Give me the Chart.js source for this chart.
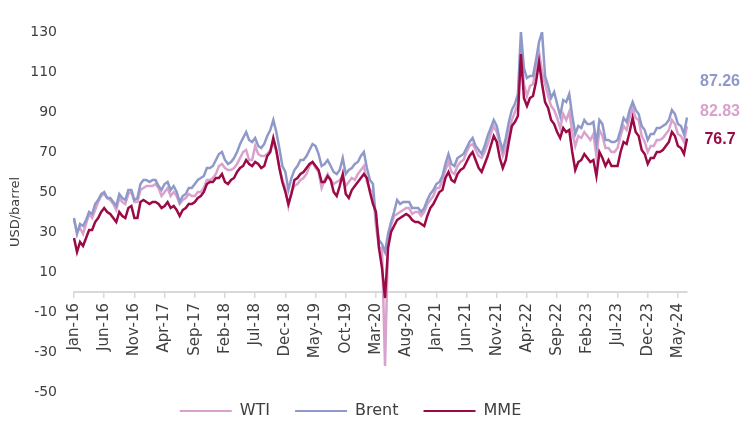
<!DOCTYPE html>
<html><head><meta charset="utf-8">
<script src="https://cdn.jsdelivr.net/npm/chart.js@4.4.1/dist/chart.umd.min.js"></script>
<style>html,body{margin:0;padding:0;background:#fff;overflow:hidden}</style>
</head><body>
<canvas id="c" width="741" height="421"></canvas>
<script>
// Half-monthly values, Jan-2016 (1st half) .. Jun-2024 (2nd half), USD/barrel
const wti = [
  36, 30, 32, 29, 34, 39, 37, 41, 45, 48, 49, 47, 46, 44, 41, 47, 45, 44, 49, 50, 45, 45, 51, 52,
  53, 53, 53, 54, 52, 48, 50, 52, 48, 50, 48, 44, 46, 47, 49, 48, 48, 50, 50, 52, 56, 56, 57, 59,
  63, 64, 62, 61, 61, 62, 64, 67, 70, 71, 66, 66, 73, 69, 68, 68, 69, 71, 75, 70, 63, 56, 52, 43,
  50, 53, 54, 56, 57, 59, 63, 65, 62, 60, 52, 56, 59, 56, 54, 55, 56, 58, 53, 55, 57, 56, 59, 61,
  63, 55, 51, 50, 33, 22, 22, -37, 24, 33, 38, 39, 40, 41, 42, 42, 39, 40, 40, 38, 40, 44, 46, 48,
  52, 52, 56, 61, 65, 60, 59, 63, 65, 66, 70, 73, 74, 71, 68, 67, 70, 74, 79, 83, 80, 74, 68, 72,
  80, 86, 90, 94, 123, 104, 98, 103, 104, 112, 120, 110, 104, 98, 93, 91, 87, 82, 89, 86, 90, 80, 73, 78,
  77, 80, 78, 76, 79, 68, 81, 78, 72, 72, 70, 70, 72, 78, 83, 81, 87, 92, 87, 86, 78, 75, 70, 73,
  73, 76, 76, 77, 79, 81, 86, 84, 79, 78, 75, 82.83
];
const brent = [
  37, 29, 34, 33, 36, 40, 39, 44, 46, 49, 50, 47, 47, 45, 43, 49, 47, 46, 51, 51, 46, 47, 54, 56,
  56, 55, 56, 56, 53, 51, 54, 55, 51, 53, 50, 45, 48, 49, 52, 52, 54, 56, 57, 58, 62, 62, 63, 66,
  69, 70, 66, 64, 65, 67, 70, 74, 77, 80, 76, 75, 77, 73, 72, 74, 78, 81, 86, 80, 72, 63, 60, 51,
  57, 61, 63, 66, 66, 68, 71, 74, 73, 69, 63, 64, 66, 63, 60, 59, 61, 67, 59, 61, 62, 64, 65, 68,
  70, 62, 56, 54, 36, 26, 24, 20, 29, 35, 40, 46, 44, 45, 45, 45, 42, 42, 42, 40, 42, 46, 49, 51,
  54, 55, 58, 64, 69, 64, 63, 67, 68, 69, 72, 75, 77, 73, 71, 69, 73, 78, 82, 86, 83, 76, 71, 77,
  85, 91, 94, 99, 130, 112, 107, 108, 108, 116, 125, 130, 108, 103, 97, 100, 94, 88, 96, 95, 99, 88, 79, 83,
  82, 86, 84, 84, 85, 74, 86, 84, 76, 76, 75, 75, 76, 81, 87, 85, 91, 95, 91, 89, 83, 81, 76, 79,
  79, 82, 82, 83, 84, 86, 91, 89, 84, 83, 79, 87.26
];
const mme = [
  27, 20, 25, 23, 27, 31, 31, 35, 37, 40, 42, 40, 39, 37, 35, 40, 38, 37, 42, 43, 37, 37, 45, 46,
  45, 44, 45, 45, 44, 42, 43, 45, 42, 43, 41, 38, 41, 42, 44, 44, 45, 47, 48, 50, 54, 55, 55, 57,
  57, 59, 55, 54, 56, 57, 60, 62, 63, 66, 64, 63, 65, 64, 62, 63, 68, 70, 77, 71, 62, 55, 50, 44,
  49, 56, 57, 59, 60, 62, 64, 65, 63, 61, 55, 55, 58, 56, 50, 48, 53, 59, 49, 47, 51, 53, 55, 57,
  59, 57, 50, 44, 40, 22, 12, -3, 22, 30, 33, 36, 37, 38, 39, 38, 36, 35, 35, 34, 33, 38, 42, 44,
  47, 50, 51, 57, 60, 56, 55, 59, 61, 62, 65, 68, 70, 66, 62, 60, 64, 68, 73, 78, 75, 67, 62, 66,
  75, 83, 85, 88, 119, 97, 93, 97, 98, 105, 115, 104, 95, 92, 86, 84, 80, 77, 82, 80, 81, 70, 61, 65,
  66, 69, 67, 65, 66, 58, 70, 67, 63, 66, 63, 63, 63, 70, 75, 74, 80, 87, 80, 78, 71, 69, 64, 67,
  67, 70, 70, 71, 73, 75, 80, 78, 73, 72, 69, 76.7
];
const monthNames = ['Jan','Feb','Mar','Apr','May','Jun','Jul','Aug','Sep','Oct','Nov','Dec'];
const firstYear = 16;
const labels = brent.map((_, i) => monthNames[Math.floor(i / 2) % 12] + '-' + (firstYear + Math.floor(i / 24)));
const tickEvery = 10; // one label every 5 months
const yTicks = { min: -50, max: 130, step: 20 };

const seriesNames = ['WTI', 'Brent', 'MME'];
const seriesColors = ['#d8a2cd', '#8e99c9', '#9b0a45'];
const endLabelOffsets = [-15, -36, 1];

const endLabels = {
  id: 'endLabels',
  afterDatasetsDraw(chart) {
    const { ctx, chartArea, scales } = chart;
    ctx.save();
    ctx.font = 'bold 16px "Liberation Sans"';
    ctx.textAlign = 'center';
    ctx.textBaseline = 'middle';
    chart.data.datasets.forEach((ds, i) => {
      const v = ds.data[ds.data.length - 1];
      const y = scales.y.getPixelForValue(v) + endLabelOffsets[i];
      ctx.fillStyle = seriesColors[i];
      ctx.fillText(String(v), chartArea.right + 33, y);
    });
    ctx.restore();
  }
};

Chart.defaults.font.family = '"DejaVu Sans"';
Chart.defaults.color = '#404040';

new Chart(document.getElementById('c'), {
  type: 'line',
  data: {
    labels,
    datasets: [wti, brent, mme].map((d, i) => ({
      label: seriesNames[i],
      data: d,
      borderColor: seriesColors[i],
      backgroundColor: seriesColors[i],
      borderWidth: 2.5,
      pointRadius: 0,
      tension: 0,
      order: 3 - i
    }))
  },
  options: {
    responsive: false,
    animation: false,
    layout: { padding: { top: 32, right: 54, bottom: -8, left: 0 } },
    plugins: {
      tooltip: { enabled: false },
      legend: {
        position: 'bottom',
        labels: {
          font: { size: 16 },
          color: '#404040',
          padding: 11,
          usePointStyle: true,
          pointStyle: 'line',
          pointStyleWidth: 66,
          sort: (a, b) => a.datasetIndex - b.datasetIndex,
          generateLabels: (chart) => Chart.defaults.plugins.legend.labels.generateLabels(chart)
            .map(l => Object.assign(l, { lineDash: [0, 14, 52, 200], lineWidth: 2 }))
        }
      }
    },
    scales: {
      x: {
        type: 'category',
        position: { y: 0 },
        offset: false,
        grid: { drawOnChartArea: false, drawTicks: true, tickLength: 5, color: '#d9d9d9', lineWidth: 1.5 },
        border: { display: true, color: '#d9d9d9', width: 2 },
        ticks: { autoSkip: false, minRotation: 90, maxRotation: 90, padding: 6, font: { size: 15 }, color: '#404040' },
        afterBuildTicks: (axis) => { axis.ticks = axis.ticks.filter(t => t.value % tickEvery === 0); },
        afterFit: (axis) => { axis.height = 0; }
      },
      y: {
        min: yTicks.min,
        max: yTicks.max,
        grid: { display: false, drawTicks: false },
        border: { display: false },
        ticks: { stepSize: yTicks.step, padding: 17, font: { size: 14 }, color: '#404040' },
        title: { display: true, text: 'USD/barrel', font: { size: 13 }, color: '#404040', padding: { top: 8, bottom: 0 } },
        afterFit: (axis) => { axis.width = 74; }
      }
    }
  },
  plugins: [endLabels]
});
</script>
</body></html>
